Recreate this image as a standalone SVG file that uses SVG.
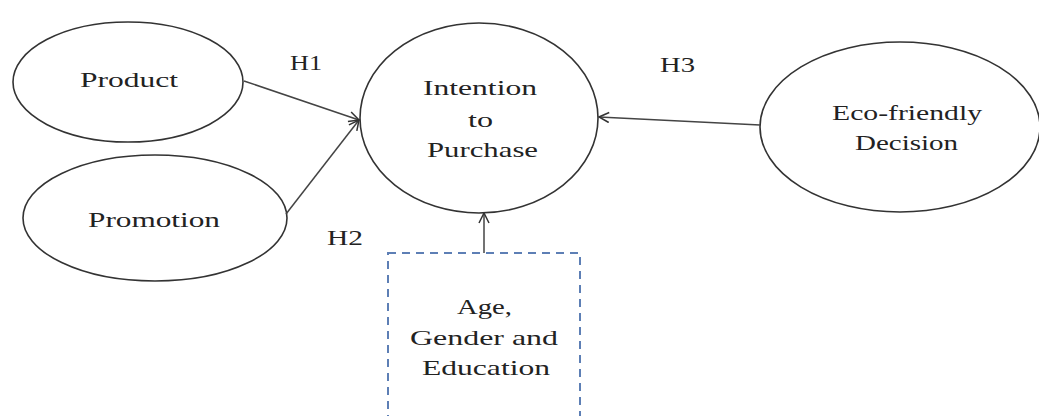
<svg xmlns="http://www.w3.org/2000/svg" width="1039" height="416" viewBox="0 0 1039 416">
<style>
.node{fill:#fff;stroke:#333;stroke-width:1.6}
.t{font-family:"Liberation Serif",serif;font-size:21px;fill:#222}
.c{stroke:#444;stroke-width:1.5;fill:none}
.box{fill:#fff;stroke:#5d7fb5;stroke-width:2;stroke-dasharray:8 6}
</style>
<defs>
<marker id="ah" viewBox="0 0 12 12" refX="11" refY="6" markerWidth="12" markerHeight="12" markerUnits="userSpaceOnUse" orient="auto">
<path d="M1,1 L11,6 L1,11" fill="none" stroke="#333" stroke-width="1.5"/>
</marker>
</defs>
<rect width="1039" height="416" fill="#fff"/>
<g id="product">
<ellipse class="node" cx="128" cy="82" rx="115" ry="60"/>
<text class="t" x="80" y="87" textLength="98" lengthAdjust="spacingAndGlyphs">Product</text>
</g>
<g id="promotion">
<ellipse class="node" cx="155" cy="218" rx="132" ry="63"/>
<text class="t" x="88" y="227" textLength="132" lengthAdjust="spacingAndGlyphs">Promotion</text>
</g>
<g id="intention">
<ellipse class="node" cx="479" cy="118" rx="119" ry="95"/>
<text class="t" x="423" y="95" textLength="114" lengthAdjust="spacingAndGlyphs">Intention</text>
<text class="t" x="468" y="127" textLength="25" lengthAdjust="spacingAndGlyphs">to</text>
<text class="t" x="427" y="157" textLength="111" lengthAdjust="spacingAndGlyphs">Purchase</text>
</g>
<g id="eco">
<ellipse class="node" cx="900" cy="127" rx="140" ry="85"/>
<text class="t" x="832" y="120" textLength="150" lengthAdjust="spacingAndGlyphs">Eco-friendly</text>
<text class="t" x="855" y="150" textLength="103" lengthAdjust="spacingAndGlyphs">Decision</text>
</g>
<g id="demographics">
<rect class="box" x="388" y="253" width="192" height="180"/>
<text class="t" x="457" y="314" textLength="55" lengthAdjust="spacingAndGlyphs">Age,</text>
<text class="t" x="410" y="345" textLength="148" lengthAdjust="spacingAndGlyphs">Gender and</text>
<text class="t" x="422" y="375" textLength="128" lengthAdjust="spacingAndGlyphs">Education</text>
</g>
<g id="connectors">
<line class="c" x1="244" y1="81" x2="359" y2="120" marker-end="url(#ah)"/>
<line class="c" x1="286" y1="214" x2="359" y2="120" marker-end="url(#ah)"/>
<line class="c" x1="760" y1="125" x2="599" y2="117" marker-end="url(#ah)"/>
<line class="c" x1="484" y1="253" x2="484" y2="213" marker-end="url(#ah)"/>
</g>
<g id="labels">
<text class="t" x="290" y="70" textLength="32" lengthAdjust="spacingAndGlyphs">H1</text>
<text class="t" x="327" y="245" textLength="36" lengthAdjust="spacingAndGlyphs">H2</text>
<text class="t" x="660" y="72" textLength="35" lengthAdjust="spacingAndGlyphs">H3</text>
</g>
</svg>
